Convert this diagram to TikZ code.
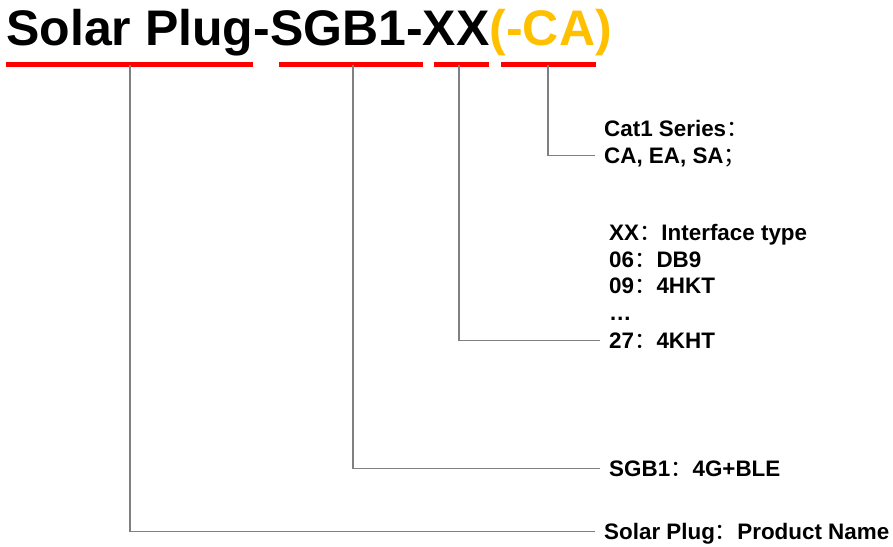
\documentclass[tikz,border=0pt]{standalone}
\usepackage{fontspec}
\setmainfont{Liberation Sans}
\newfontfamily\cjk{Noto Sans CJK SC}
\usepackage{tikz}
\usetikzlibrary{arrows.meta, calc, positioning}
\definecolor{markrot}{HTML}{FF0000}
\definecolor{gold}{HTML}{FFC000}
\definecolor{leitung}{HTML}{808080}
\newcommand{\qcolon}{{\cjk\mdseries ：}}
\newcommand{\qsemi}{{\cjk\mdseries ；}}

\begin{document}
\begin{tikzpicture}[
        x=1pt, y=-1pt,
        desc/.style={anchor=base west, inner xsep=9pt, inner ysep=0pt,
                     text height=15.5pt, text depth=0pt,
                     font=\fontsize{22.4}{26}\selectfont\bfseries},
        markline/.style={markrot, line width=5.5pt},
        lead/.style={leitung, line width=1.2pt}
      ]
      \useasboundingbox (0,0) rectangle (893,546);

      % Typenbezeichnung
      \node[anchor=base west, inner sep=0pt, font=\fontsize{50}{56}\selectfont\bfseries]
        (title) at (6,45) {Solar Plug-SGB1-XX\textcolor{gold}{(-CA)}};

      \draw[markline] (6,64.5) -- (253,64.5);
      \draw[markline] (279,64.5) -- (423,64.5);
      \draw[markline] (434,64.5) -- (489,64.5);
      \draw[markline] (501,64.5) -- (596,64.5);

      \coordinate (pn)  at (130,64.5);
      \coordinate (sgb) at (353,64.5);
      \coordinate (xx)  at (459,64.5);
      \coordinate (ca)  at (548,64.5);

      % Erklaerungen
      \node[desc] (cat)  at (595,136.5) {Cat1 Series\qcolon};
      \node[desc] (cas)  at (595,163)   {CA, EA, SA\qsemi};

      \node[desc] (xxt)  at (600,240)   {XX\qcolon Interface type};
      \node[desc] (t06)  at (600,267)   {06\qcolon DB9};
      \node[desc] (t09)  at (600,293)   {09\qcolon 4HKT};
      \node[desc] (dots) at (600,320)   {…};
      \node[desc] (t27)  at (600,348)   {27\qcolon 4KHT};

      \node[desc] (sgbt) at (600,476)   {SGB1\qcolon 4G+BLE};
      \node[desc] (name) at (595,539.5) {Solar Plug\qcolon Product Name};

      \draw[lead] (ca)  |- (cas.west);
      \draw[lead] (xx)  |- (t27.west);
      \draw[lead] (sgb) |- (sgbt.west);
      \draw[lead] (pn)  |- (name.west);
    \end{tikzpicture}
\end{document}
